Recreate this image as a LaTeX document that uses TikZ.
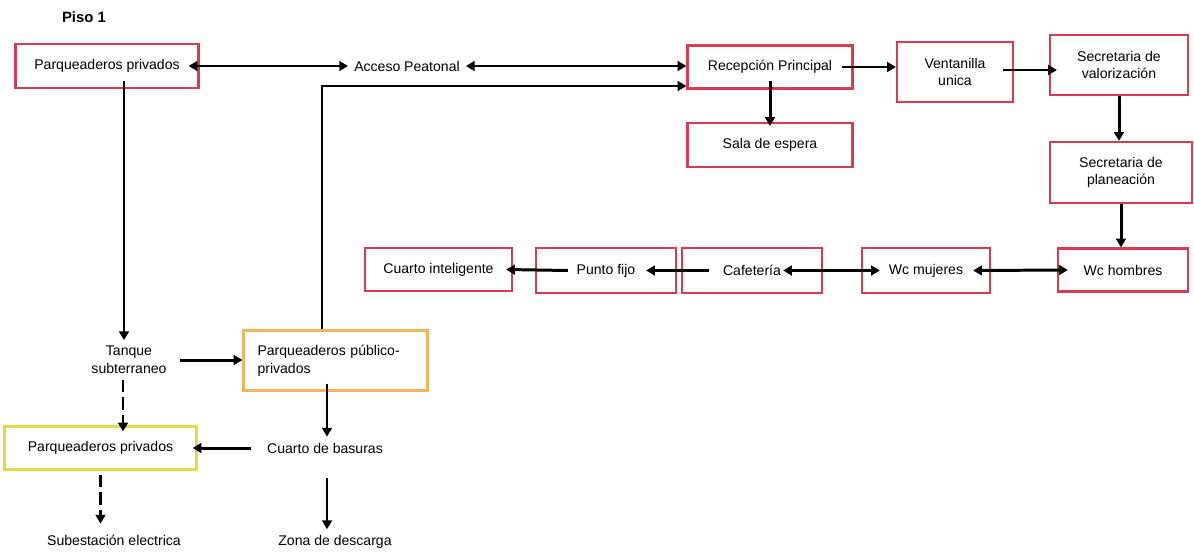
\documentclass[tikz,border=0pt]{standalone}
\usepackage{fontspec}
\setmainfont{Liberation Sans}
\usetikzlibrary{arrows.meta,positioning}
\definecolor{boxred}{RGB}{216,58,80}
\definecolor{boxorange}{RGB}{248,178,92}
\definecolor{boxyellow}{RGB}{228,218,62}

\begin{document}
\begin{tikzpicture}[x=0.02cm,y=-0.02cm,
  txt/.style={font=\fontsize{8}{10}\selectfont, align=center},
  room/.style={txt, draw=boxred, line width=1.3pt, inner sep=0pt},
  conn/.style={line width=1.7pt, -{Triangle[length=5pt,width=5.6pt]}},
  biconn/.style={line width=1.7pt, {Triangle[length=5pt,width=5.6pt]}-{Triangle[length=5pt,width=5.6pt]}},
  dashconn/.style={conn, dash pattern=on 7pt off 3pt}]
\useasboundingbox (0,0) rectangle (1194,555);
% Title
\node[txt, font=\fontsize{8.5}{10}\selectfont\bfseries] (piso) at (84,17) {Piso 1};
% First row
\node[room, minimum width=3.66cm, minimum height=0.88cm] (pprivA) at (107,66) {Parqueaderos privados};
\node[txt] (acceso) at (407,66) {Acceso Peatonal};
\node[room, minimum width=3.3cm, minimum height=0.86cm] (recepcion) at (770,67) {Recepción Principal};
\node[room, minimum width=2.32cm, minimum height=1.2cm] (ventanilla) at (955,72) {Ventanilla\\unica};
\node[room, minimum width=2.76cm, minimum height=1.2cm] (valoriz) at (1119,65) {Secretaria de\\valorización};
\node[room, minimum width=3.3cm, minimum height=0.88cm] (sala) at (770,145) {Sala de espera};
\node[room, minimum width=2.84cm, minimum height=1.22cm] (planeacion) at (1121,172.5) {Secretaria de\\planeación};
% Second row
\node[room, minimum width=2.6cm, minimum height=0.86cm] (wch) at (1123,270) {Wc hombres};
\node[room, minimum width=2.56cm, minimum height=0.9cm] (wcm) at (926,270.5) {Wc mujeres};
\node[room, minimum width=2.8cm, minimum height=0.9cm] (cafe) at (752,270.5) {Cafetería};
\node[room, minimum width=2.8cm, minimum height=0.9cm] (punto) at (606,270.5) {Punto fijo};
\node[room, minimum width=2.94cm, minimum height=0.86cm] (cuarto) at (438.5,269.5) {Cuarto inteligente};
% Lower part
\node[txt] (tanque) at (129,360) {Tanque\\subterraneo};
\node[txt, draw=boxorange, line width=1.3pt, text width=3.12cm, align=left, inner xsep=0.28cm, minimum height=1.2cm] (pubpriv) at (335.5,360.5) {Parqueaderos público-\\privados};
\node[room, draw=boxyellow, minimum width=3.84cm, minimum height=0.86cm] (pprivB) at (100.5,448) {Parqueaderos privados};
\node[txt] (basuras) at (325,448) {Cuarto de basuras};
\node[txt] (subest) at (114,540) {Subestación electrica};
\node[txt] (zona) at (335,542) {Zona de descarga};
% Connectors, first row
\draw[biconn] ([xshift=-0.22cm]pprivA.east) -- (acceso.west);
\draw[biconn] (acceso.east) -- (acceso.east -| recepcion.west);
\draw[conn] ([xshift=-0.27cm]pubpriv.north) |- ([yshift=-0.38cm]recepcion.west);
\draw[conn] ([xshift=-0.24cm]recepcion.east) -- (recepcion.east -| ventanilla.west);
\draw[conn] ([xshift=-0.22cm,yshift=0.04cm]ventanilla.east) -- ([xshift=0.16cm,yshift=0.04cm]ventanilla.east -| valoriz.west);
\draw[conn] (valoriz.south) -- (valoriz.south |- planeacion.north);
\draw[conn] (planeacion.south) -- (planeacion.south |- wch.north);
\draw[conn] ([yshift=0.17cm]recepcion.south) -- ([yshift=-0.08cm]sala.north);
% Connectors, second row
\draw[biconn] ([xshift=-0.36cm]wcm.east) -- ([xshift=0.22cm]wch.west);
\draw[biconn] ([xshift=-0.8cm]cafe.east) -- ([xshift=0.38cm]wcm.west);
\draw[conn] ([xshift=0.56cm]cafe.west) -- ([xshift=-0.62cm]punto.east);
\draw[conn] ([xshift=0.66cm]punto.west) -- ([xshift=-0.14cm]cuarto.east);
% Connectors, lower part
\draw[conn] ([xshift=0.34cm,yshift=0.16cm]pprivA.south) -- ([xshift=0.34cm]pprivA.south |- tanque.north);
\draw[conn] ([xshift=0.14cm]tanque.east) -- (tanque.east -| pubpriv.west);
\draw[dashconn] ([xshift=-0.12cm]tanque.south) -- ([xshift=-0.12cm,yshift=-0.12cm]tanque.south |- pprivB.north);
\draw[conn] ([xshift=-0.17cm,yshift=0.16cm]pubpriv.south) -- ([xshift=-0.17cm]pubpriv.south |- basuras.north);
\draw[conn] ([xshift=-0.2cm]basuras.west) -- ([xshift=-0.1cm]basuras.west -| pprivB.east);
\draw[dashconn] ([yshift=-0.08cm]pprivB.south) -- ([yshift=0.1cm]pprivB.south |- subest.north);
\draw[conn] ([xshift=0.04cm,yshift=-0.38cm]basuras.south) -- ([xshift=0.04cm]basuras.south |- zona.north);
\end{tikzpicture}
\end{document}
